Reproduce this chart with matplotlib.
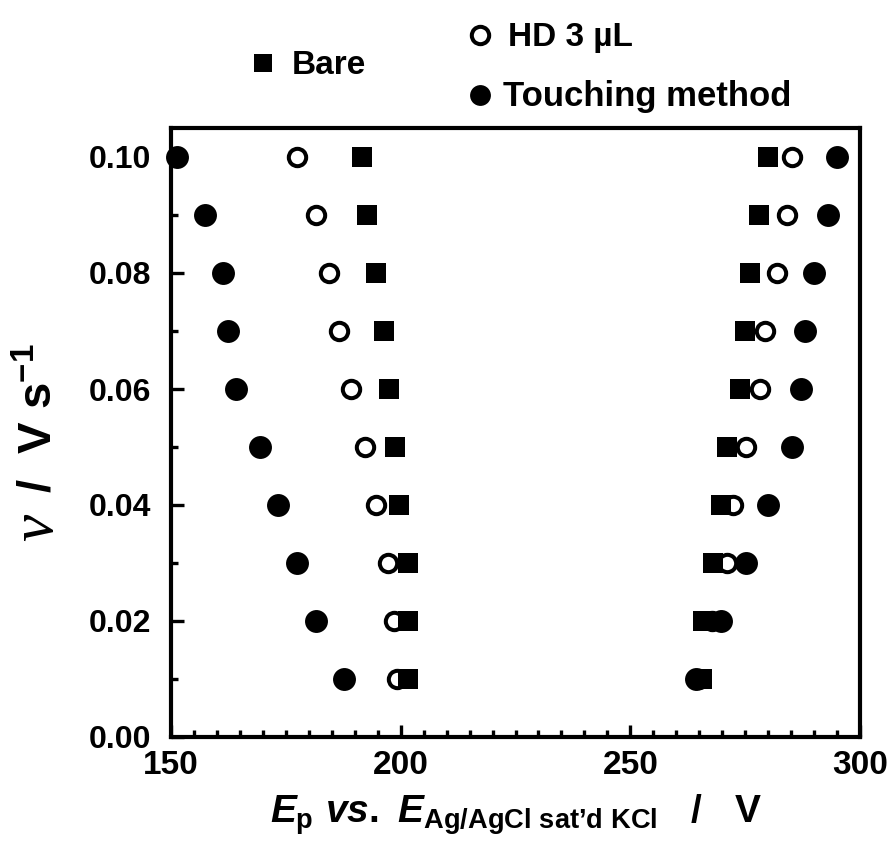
import matplotlib
matplotlib.use("Agg")
import matplotlib.pyplot as plt
import matplotlib.font_manager as fm
from matplotlib.lines import Line2D
from matplotlib.ticker import MultipleLocator, FormatStrFormatter

# ---------------- data ----------------
scan_rate = [0.01, 0.02, 0.03, 0.04, 0.05, 0.06, 0.07, 0.08, 0.09, 0.10]

bare_left = [201.7, 201.7, 201.7, 199.7, 198.8, 197.5, 196.4, 194.6, 192.6, 191.6]
hd_left = [199.3, 198.5, 197.3, 194.6, 192.3, 189.2, 186.6, 184.5, 181.5, 177.5]
touch_left = [187.6, 181.5, 177.5, 173.4, 169.4, 164.2, 162.4, 161.4, 157.4, 151.4]

bare_right = [265.5, 265.8, 267.9, 269.8, 271.0, 273.8, 274.9, 276.0, 278.0, 280.0]
hd_right = [265.0, 267.8, 271.1, 272.3, 275.1, 278.2, 279.3, 282.0, 284.0, 285.1]
touch_right = [264.4, 269.8, 275.1, 280.0, 285.2, 287.1, 288.0, 290.0, 293.1, 295.1]

x_ticks = [150, 200, 250, 300]
y_ticks = [0.00, 0.02, 0.04, 0.06, 0.08, 0.10]
legend_labels = ["Bare", "HD 3 \u00b5L", "Touching method"]


def has_font(name):
    try:
        fm.findfont(fm.FontProperties(family=name), fallback_to_default=False)
        return True
    except Exception:
        return False


SANS = "Liberation Sans" if has_font("Liberation Sans") else "DejaVu Sans"
NARROW = "Liberation Sans Narrow" if has_font("Liberation Sans Narrow") else SANS
SERIF = "Liberation Serif" if has_font("Liberation Serif") else "DejaVu Serif"

plt.rcParams["mathtext.fontset"] = "custom"
plt.rcParams["mathtext.rm"] = f"{NARROW}:bold"
plt.rcParams["mathtext.it"] = f"{NARROW}:italic:bold"
plt.rcParams["mathtext.bf"] = f"{SANS}:bold"

W, H = 891, 844
fig = plt.figure(figsize=(W / 100, H / 100), dpi=100)


def fx(x):
    return x / W


def fy(y):
    return 1 - y / H


ax = fig.add_axes([fx(171), fy(737), fx(860) - fx(171), fy(128) - fy(737)])

# draw order: open circles, squares, filled circles
for xs in (hd_left, hd_right):
    ax.plot(xs, scan_rate, linestyle="none", marker="o", markersize=12.5,
            markerfacecolor="white", markeredgecolor="black", markeredgewidth=2.9,
            zorder=3, clip_on=False)
for xs in (bare_left, bare_right):
    ax.plot(xs, scan_rate, linestyle="none", marker="s", markersize=14,
            markerfacecolor="black", markeredgecolor="black", markeredgewidth=0,
            zorder=4, clip_on=False)
for xs in (touch_left, touch_right):
    ax.plot(xs, scan_rate, linestyle="none", marker="o", markersize=16.5,
            markerfacecolor="black", markeredgecolor="black", markeredgewidth=0,
            zorder=5, clip_on=False)

ax.set_xlim(150, 300)
ax.set_ylim(0, 0.105)
ax.set_xticks(x_ticks)
ax.set_yticks(y_ticks)
ax.xaxis.set_minor_locator(MultipleLocator(5))
ax.yaxis.set_minor_locator(MultipleLocator(0.01))
ax.yaxis.set_major_formatter(FormatStrFormatter("%.2f"))

for s in ax.spines.values():
    s.set_linewidth(3.0)

ax.tick_params(which="both", direction="in", top=False, right=False)
ax.tick_params(which="major", length=9, width=2.4)
ax.tick_params(which="minor", length=5, width=2.4)
ax.tick_params(axis="y", which="major", pad=14)
ax.tick_params(axis="x", which="major", pad=9)

for lab in ax.get_yticklabels():
    lab.set_fontfamily(SANS)
    lab.set_fontweight("bold")
    lab.set_fontsize(23)
for lab in ax.get_xticklabels():
    lab.set_fontfamily(NARROW)
    lab.set_fontweight("bold")
    lab.set_fontsize(24)

# x label
xlabel = (r"$\mathit{E}_{\mathrm{p}}\ \mathit{vs.}\ \mathit{E}_{\mathrm{Ag/AgCl\ sat"
          + "\u2019" + r"d\ KCl}}$" + "   /   V")
fig.text(fx(516), fy(815), xlabel,
         ha="center", va="center", fontsize=28, fontfamily=NARROW, fontweight="bold")

# y label (nu in serif, rest bold sans)
fig.text(fx(52), fy(527), "\u03bd", rotation=90, rotation_mode="anchor",
         ha="center", va="baseline", fontsize=44, fontfamily=SERIF, fontstyle="italic")
fig.text(fx(52), fy(418), r"/  V s$^{\mathbf{-1}}$", rotation=90, rotation_mode="anchor",
         ha="center", va="baseline", fontsize=34, fontfamily=SANS, fontweight="bold")

# legend (manual, above plot)
leg_font = dict(fontsize=24, fontfamily=SANS, fontweight="bold", va="baseline", ha="left")
fig.add_artist(Line2D([fx(263)], [fy(63)], transform=fig.transFigure, marker="s",
                      markersize=13, markerfacecolor="black", markeredgewidth=0,
                      linestyle="none"))
fig.text(fx(292), fy(74), legend_labels[0], **leg_font)
fig.add_artist(Line2D([fx(480)], [fy(35)], transform=fig.transFigure, marker="o",
                      markersize=12.5, markerfacecolor="white", markeredgecolor="black",
                      markeredgewidth=2.9, linestyle="none"))
fig.text(fx(508), fy(46), legend_labels[1], **leg_font)
fig.add_artist(Line2D([fx(480)], [fy(95)], transform=fig.transFigure, marker="o",
                      markersize=15, markerfacecolor="black", markeredgewidth=0,
                      linestyle="none"))
fig.text(fx(503), fy(106), legend_labels[2], fontsize=25, fontfamily=SANS,
         fontweight="bold", va="baseline", ha="left")

fig.savefig("out.png", dpi=100)
